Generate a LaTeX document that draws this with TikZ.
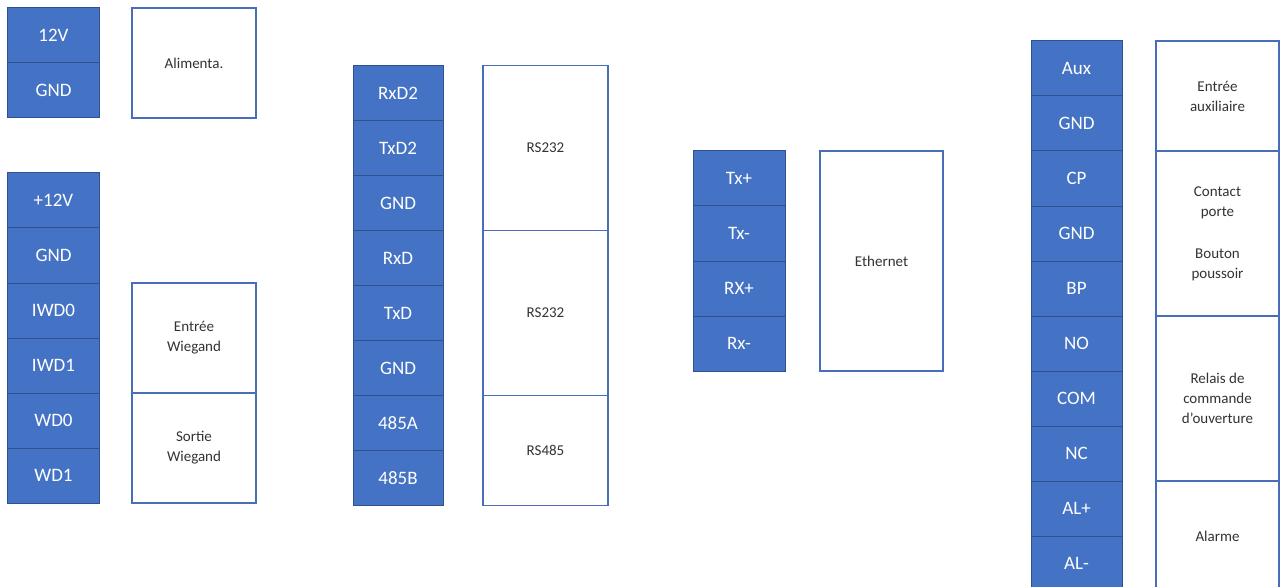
\documentclass[tikz,border=0pt]{standalone}
\usepackage{fontspec}
\setmainfont{Carlito}
\usetikzlibrary{positioning}
\definecolor{pinblue}{HTML}{4472C4}
\definecolor{pinedge}{HTML}{2F528F}
\definecolor{boxedge}{HTML}{4A6DBA}
\begin{document}
\begin{tikzpicture}
  [
  x=1bp, y=-1bp,
  pinnode/.style={draw=pinedge, fill=pinblue, line width=1bp, minimum width=91bp, minimum height=55bp, inner sep=0pt, outer sep=0pt, text=white, font=\fontsize{19bp}{22bp}\selectfont},
  funcnode/.style={draw=boxedge, line width=1.3bp, fill=white, minimum width=124bp, inner sep=0pt, outer sep=0pt, align=center, text=black!80, font=\fontsize{15bp}{20bp}\selectfont}
  ]
  \useasboundingbox (0,0) rectangle (1282,587);
  % alimentation
  \node[pinnode] (p12v) at (53.5,35.5) {12V};
  \node[pinnode, below=0pt of p12v] (pgnda) {GND};
  \node[funcnode, minimum height=110bp, right=33bp of p12v.north east, anchor=north west] (alim) {Alimenta.};
  % wiegand
  \node[pinnode] (pp12v) at (53.5,200.5) {+12V};
  \node[pinnode, below=0pt of pp12v] (pgndb) {GND};
  \node[pinnode, below=0pt of pgndb] (piwd0) {IWD0};
  \node[pinnode, below=0pt of piwd0] (piwd1) {IWD1};
  \node[pinnode, below=0pt of piwd1] (pwd0) {WD0};
  \node[pinnode, below=0pt of pwd0] (pwd1) {WD1};
  \node[funcnode, minimum height=110bp, right=33bp of piwd0.north east, anchor=north west] (wiegin) {Entrée\\Wiegand};
  \node[funcnode, minimum height=110bp, below=0pt of wiegin] (wiegout) {Sortie\\Wiegand};
  % serie
  \node[pinnode, minimum width=90bp] (prxd2) at (398,93) {RxD2};
  \node[pinnode, minimum width=90bp, below=0pt of prxd2] (ptxd2) {TxD2};
  \node[pinnode, minimum width=90bp, below=0pt of ptxd2] (pgndc) {GND};
  \node[pinnode, minimum width=90bp, below=0pt of pgndc] (prxd) {RxD};
  \node[pinnode, minimum width=90bp, below=0pt of prxd] (ptxd) {TxD};
  \node[pinnode, minimum width=90bp, below=0pt of ptxd] (pgndd) {GND};
  \node[pinnode, minimum width=90bp, below=0pt of pgndd] (p485a) {485A};
  \node[pinnode, minimum width=90bp, below=0pt of p485a] (p485b) {485B};
  \node[funcnode, minimum width=125bp, minimum height=165bp, right=40bp of prxd2.north east, anchor=north west] (rsa) {RS232};
  \node[funcnode, minimum width=125bp, minimum height=165bp, below=0pt of rsa] (rsb) {RS232};
  \node[funcnode, minimum width=125bp, minimum height=110bp, below=0pt of rsb] (rsc) {RS485};
  % ethernet
  \node[pinnode, minimum width=92bp] (ptxp) at (739,178.5) {Tx+};
  \node[pinnode, minimum width=92bp, below=0pt of ptxp] (ptxm) {Tx-};
  \node[pinnode, minimum width=92bp, below=0pt of ptxm] (prxp) {RX+};
  \node[pinnode, minimum width=92bp, below=0pt of prxp] (prxm) {Rx-};
  \node[funcnode, minimum width=123bp, minimum height=220bp, right=35bp of ptxp.north east, anchor=north west] (eth) {Ethernet};
  % porte
  \node[pinnode] (paux) at (1076.5,68.5) {Aux};
  \node[pinnode, below=0pt of paux] (pgnde) {GND};
  \node[pinnode, below=0pt of pgnde] (pcp) {CP};
  \node[pinnode, below=0pt of pcp] (pgndf) {GND};
  \node[pinnode, below=0pt of pgndf] (pbp) {BP};
  \node[pinnode, below=0pt of pbp] (pno) {NO};
  \node[pinnode, below=0pt of pno] (pcom) {COM};
  \node[pinnode, below=0pt of pcom] (pnc) {NC};
  \node[pinnode, below=0pt of pnc] (palp) {AL+};
  \node[pinnode, below=0pt of palp] (palm) {AL-};
  \node[funcnode, minimum width=123bp, minimum height=110bp, right=34bp of paux.north east, anchor=north west] (aux) {Entrée\\auxiliaire};
  \node[funcnode, minimum width=123bp, minimum height=165bp, below=0pt of aux] (cpbp) {Contact\\porte\\[22bp]Bouton\\poussoir};
  \node[funcnode, minimum width=123bp, minimum height=165bp, below=0pt of cpbp] (relais) {Relais de\\commande\\d’ouverture};
  \node[funcnode, minimum width=123bp, minimum height=110bp, below=0pt of relais] (alarme) {Alarme};
\end{tikzpicture}
\end{document}
